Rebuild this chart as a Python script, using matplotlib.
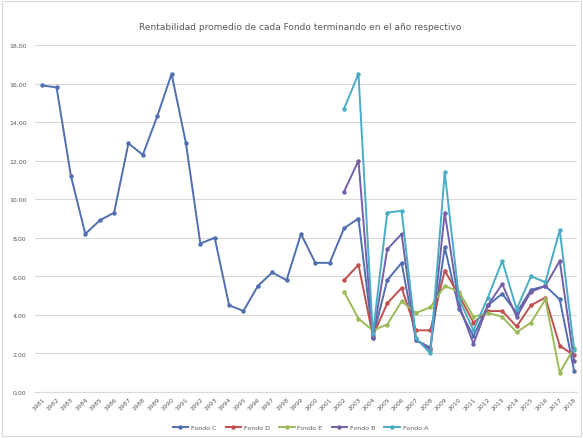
import numpy as np
import matplotlib
matplotlib.use("Agg")
import matplotlib.pyplot as plt
from matplotlib.ticker import FuncFormatter

nan = np.nan

years = list(range(1981, 2019))

fondo_c = [15.9, 15.8, 11.2, 8.2, 8.9, 9.3, 12.9, 12.3, 14.3, 16.5,
           12.9, 7.7, 8.0, 4.5, 4.2, 5.5, 6.2, 5.8, 8.2, 6.7,
           6.7, 8.5, 9.0, 2.8, 5.8, 6.7, 2.7, 2.3, 7.5, 4.3,
           2.9, 4.5, 5.1, 4.1, 5.3, 5.5, 4.8, 1.1]

pad = [nan] * 21
fondo_d = pad + [5.8, 6.6, 2.9, 4.6, 5.4, 3.2, 3.2, 6.3, 5.0, 3.6,
                 4.2, 4.2, 3.4, 4.5, 4.9, 2.4, 1.9]
fondo_e = pad + [5.2, 3.8, 3.2, 3.5, 4.7, 4.1, 4.4, 5.5, 5.2, 3.9,
                 4.1, 3.9, 3.1, 3.6, 4.8, 1.0, 2.3]
fondo_b = pad + [10.4, 12.0, 2.8, 7.4, 8.2, 2.7, 2.2, 9.3, 4.5, 2.5,
                 4.5, 5.6, 3.9, 5.2, 5.5, 6.8, 1.6]
fondo_a = pad + [14.7, 16.5, 3.0, 9.3, 9.4, 2.8, 2.0, 11.4, 4.8, 3.2,
                 4.9, 6.8, 4.3, 6.0, 5.7, 8.4, 2.2]

series = [
    ("Fondo C", fondo_c, "#4F6FB0"),
    ("Fondo D", fondo_d, "#C0504D"),
    ("Fondo E", fondo_e, "#9BBB59"),
    ("Fondo B", fondo_b, "#7560A8"),
    ("Fondo A", fondo_a, "#4BACC6"),
]

title = "Rentabilidad promedio de cada Fondo terminando en el año respectivo"

fig = plt.figure(figsize=(5.83, 4.39), dpi=100)
ax = fig.add_axes([35 / 583, 1 - 393 / 439, (577 - 35) / 583, (393 - 46) / 439])

x = np.arange(len(years))
for name, vals, color in series:
    ax.plot(x, vals, color=color, lw=1.4, marker="o", ms=3.2,
            markeredgewidth=0, label=name, zorder=3)

ax.set_xlim(-0.5, len(years) - 0.8)
ax.set_ylim(0, 18)
ax.set_yticks(np.arange(0, 18.01, 2))
ax.yaxis.set_major_formatter(FuncFormatter(lambda v, p: f"{v:.2f}".replace(".", ",")))
ax.set_xticks(x)
ax.set_xticklabels([str(y) for y in years], rotation=45, ha="right",
                   rotation_mode="anchor")

ax.grid(axis="y", color="#d9d9d9", lw=0.8, zorder=0)
for s in ["top", "right", "left"]:
    ax.spines[s].set_visible(False)
ax.spines["bottom"].set_color("#d9d9d9")
ax.tick_params(axis="both", length=0, labelsize=4.5, colors="#595959")
ax.tick_params(axis="x", pad=3)
ax.tick_params(axis="y", pad=6)

fig.text(0.515, 1 - 28 / 439, title, ha="center", va="center",
         fontsize=6.5, color="#595959")

leg = fig.legend(loc="center", bbox_to_anchor=(0.515, 1 - 428 / 439), ncol=5,
                 frameon=False, fontsize=4.5, handlelength=2.5,
                 columnspacing=1.5, handletextpad=0.4)
for t in leg.get_texts():
    t.set_color("#595959")

fig.patches.append(plt.Rectangle((0.004, 0.004), 0.992, 0.992, transform=fig.transFigure,
                                 fill=False, edgecolor="#d9d9d9", lw=0.8))

fig.savefig("out.png", dpi=100)
